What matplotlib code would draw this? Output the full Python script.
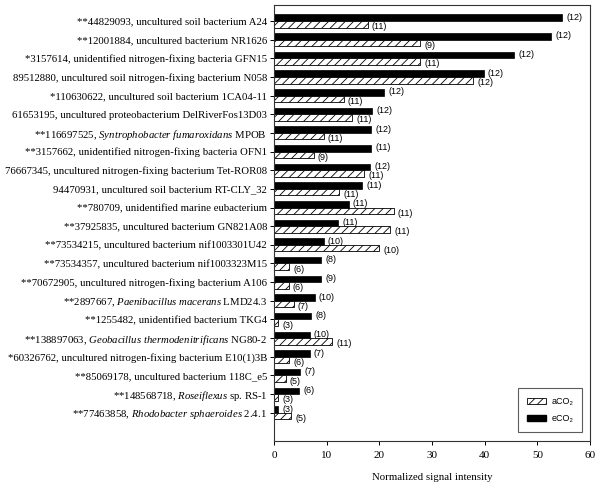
import numpy as np
import matplotlib
matplotlib.use('Agg')
import matplotlib.pyplot as plt
from matplotlib.patches import Patch

plt.rcParams['mathtext.fontset'] = 'custom'
plt.rcParams['mathtext.rm'] = 'Liberation Serif'
plt.rcParams['mathtext.it'] = 'Liberation Serif:italic'
plt.rcParams['hatch.linewidth'] = 0.6

labels = [
    '**44829093, uncultured soil bacterium A24',
    '**12001884, uncultured bacterium NR1626',
    '*3157614, unidentified nitrogen-fixing bacteria GFN15',
    '89512880, uncultured soil nitrogen-fixing bacterium N058',
    '*110630622, uncultured soil bacterium 1CA04-11',
    '61653195, uncultured proteobacterium DelRiverFos13D03',
    r'**116697525, $\mathit{Syntrophobacter\ fumaroxidans}$ MPOB',
    '**3157662, unidentified nitrogen-fixing bacteria OFN1',
    '76667345, uncultured nitrogen-fixing bacterium Tet-ROR08',
    '94470931, uncultured soil bacterium RT-CLY_32',
    '**780709, unidentified marine eubacterium',
    '**37925835, uncultured bacterium GN821A08',
    '**73534215, uncultured bacterium nif1003301U42',
    '**73534357, uncultured bacterium nif1003323M15',
    '**70672905, uncultured nitrogen-fixing bacterium A106',
    r'**2897667, $\mathit{Paenibacillus\ macerans}$ LMD24.3',
    '**1255482, unidentified bacterium TKG4',
    r'**138897063, $\mathit{Geobacillus\ thermodenitrificans}$ NG80-2',
    '*60326762, uncultured nitrogen-fixing bacterium E10(1)3B',
    '**85069178, uncultured bacterium 118C_e5',
    r'**148568718, $\mathit{Roseiflexus}$ sp. RS-1',
    r'**77463858, $\mathit{Rhodobacter\ sphaeroides}$ 2.4.1',
]

eco2 = [54.7, 52.6, 45.6, 39.8, 20.9, 18.7, 18.5, 18.5, 18.2, 16.7, 14.2,
        12.2, 9.4, 8.9, 8.9, 7.7, 7.0, 6.8, 6.8, 5.0, 4.8, 0.8]
aco2 = [17.8, 27.7, 27.7, 37.8, 13.2, 14.9, 9.4, 7.5, 17.1, 12.4, 22.7,
        22.1, 20.0, 2.9, 2.8, 3.7, 0.8, 11.0, 2.9, 2.2, 0.8, 3.2]
eco2_n = [12, 12, 12, 12, 12, 12, 12, 11, 12, 11, 11, 11, 10, 8, 9, 10, 8, 10, 7, 7, 6, 3]
aco2_n = [11, 9, 11, 12, 11, 11, 11, 9, 11, 11, 11, 11, 10, 6, 6, 7, 3, 11, 6, 5, 3, 5]

fig = plt.figure(figsize=(6, 4.84), dpi=100)
ax = fig.add_axes([0.4567, 0.0895, 0.5266, 0.9002])

y = np.arange(len(labels))
h = 0.35
ax.barh(y - h / 2, eco2, height=h, color='black', edgecolor='black', linewidth=0.5)
ax.barh(y + h / 2, aco2, height=h, color='white', edgecolor='black',
        linewidth=0.6, hatch='////')

# sample counts next to each bar; the aCO2 ones sit a bit lower like the original
ann_font = dict(family=['Liberation Sans', 'DejaVu Sans'], fontsize=6.5)
for i in range(len(labels)):
    ax.annotate('(%d)' % eco2_n[i], (eco2[i], y[i] - h / 2), xytext=(3, 0.3),
                textcoords='offset points', va='center', ha='left', **ann_font)
    ax.annotate('(%d)' % aco2_n[i], (aco2[i], y[i] + h / 2), xytext=(3, -1.7),
                textcoords='offset points', va='center', ha='left', **ann_font)

ax.set_xlim(0, 60)
ax.set_ylim(22.5, -0.86)
ax.set_xticks(np.arange(0, 61, 10))
ax.set_yticks(y)
ax.set_yticklabels(labels, family='Liberation Serif', fontsize=7.75)
for t in ax.get_xticklabels():
    t.set_family('Liberation Serif')
    t.set_fontsize(8)
ax.tick_params(axis='both', direction='out', length=3, width=0.7, pad=2)
ax.tick_params(axis='x', pad=4.5)
ax.set_xlabel('Normalized signal intensity', family='Liberation Serif', fontsize=7.75, labelpad=9)

for s in ax.spines.values():
    s.set_linewidth(0.8)
    s.set_color('#333333')

handles = [Patch(facecolor='white', edgecolor='black', hatch='////', linewidth=0.6, label='aCO\u2082'),
           Patch(facecolor='black', edgecolor='black', label='eCO\u2082')]
leg = ax.legend(handles=handles, loc='lower right', bbox_to_anchor=(0.976, 0.02),
                borderaxespad=0,
                prop=dict(family=['Liberation Sans', 'DejaVu Sans'], size=6.5),
                fancybox=False, edgecolor='#333333', borderpad=1.0, labelspacing=0.85,
                handlelength=2.1, handleheight=0.7, handletextpad=0.6)
leg.get_frame().set_linewidth(0.8)

fig.savefig('out.png', dpi=100)
